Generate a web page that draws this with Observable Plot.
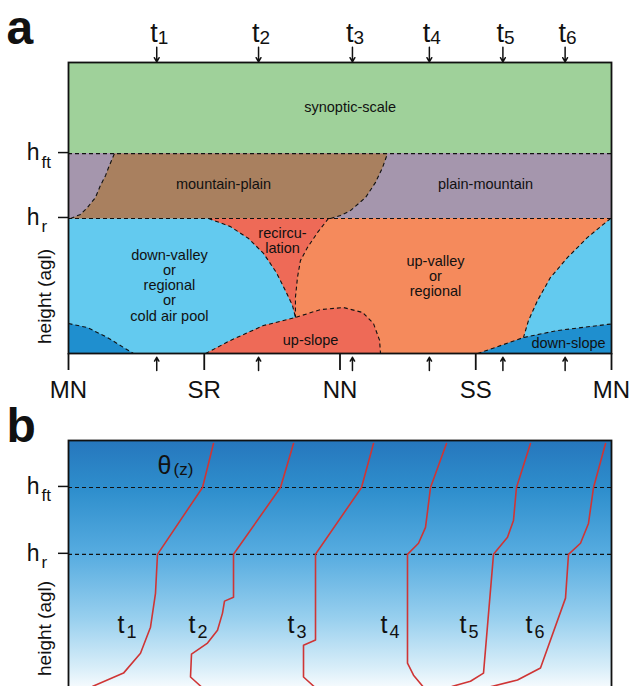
<!DOCTYPE html>
<html><head><meta charset="utf-8">
<script src="https://cdn.jsdelivr.net/npm/d3@7"></script>
<script src="https://cdn.jsdelivr.net/npm/@observablehq/plot@0.6"></script>
<style>
html,body{margin:0;padding:0;overflow:hidden;background:#fff;width:629px;height:686px;}
#chart svg{display:block;}
#chart svg + svg{margin-top:-20px;position:relative;}
</style></head><body><div id="chart"></div>
<script>
// ---------- data (x: hours since midnight, y: relative height %) ----------
const hr = 46.4, hft = 68.7;
const heightLevels = [hr, hft];
const heightSubs = ["r", "ft"];
const dayTicks = [0, 6, 12, 18, 24];
const dayLabels = ["MN", "SR", "NN", "SS", "MN"];
const tTimes = [3.9, 8.4, 12.55, 15.95, 19.2, 21.95];
const tSubs = ["1", "2", "3", "4", "5", "6"];

// boundaries between flow regimes (panel a)
const mpLeft = [[0.09,46.4],[0.53,47.8],[0.84,50.2],[1.19,53.6],[1.41,57.7],[1.64,61.2],[1.77,63.9],[2.03,68.7]];
const mpRight = [[11.58,46.4],[12.02,47.4],[12.46,49.1],[13.13,53.6],[13.57,58.8],[13.88,63.9],[14.10,68.7]];
const blueRecirc = [[6.19,46.4],[7.16,43.6],[7.96,39.5],[8.62,34.4],[9.19,27.8],[9.59,21.6],[9.90,16.5],[10.03,12.4]];
const recircOrange = [[11.49,46.4],[11.01,41.6],[10.56,36.4],[10.25,31.9],[10.12,26.1],[10.03,19.2],[10.03,12.4]];
const upslope = [[6.06,0],[7.16,4.5],[8.62,9.6],[10.03,12.4],[11.14,15.1],[12.15,15.8],[13.0,14.1],[13.48,10.3],[13.75,4.5],[13.79,0]];
const darkLeft = [[0,10.3],[0.84,8.9],[1.72,5.5],[2.43,2.1],[2.87,0]];
const rightBlue = [[23.96,46.4],[22.94,39.9],[22.06,33.0],[21.30,26.1],[20.73,18.2],[20.33,11.3],[20.11,5.5]];
const downslope = [[18.08,0],[19.09,2.7],[20.11,5.5],[21.61,7.9],[23.82,10.0],[24,10.1]];

const regionLabels = [
  {text: "synoptic-scale", x: 12.45, y: 84.5},
  {text: "mountain-plain", x: 6.85, y: 58.1},
  {text: "plain-mountain", x: 18.43, y: 58.1},
  {text: "recircu-\nlation", x: 9.46, y: 38.8},
  {text: "down-valley\nor\nregional\nor\ncold air pool", x: 4.46, y: 23.4},
  {text: "up-valley\nor\nregional", x: 16.22, y: 26.5},
  {text: "up-slope", x: 10.70, y: 4.5},
  {text: "down-slope", x: 22.10, y: 3.4}
];

// potential temperature profiles (panel b; x: theta, arbitrary units)
const prof1 = [[26.70,83.35],[24.68,68.7],[16.39,46.4],[16.02,33.4],[15.10,22.1],[13.26,13.4],[10.13,6.8],[4.60,2.5],[1.84,0]];
const prof2 = [[41.44,83.35],[39.04,68.7],[30.39,46.4],[30.39,32.1],[28.73,30.8],[28.36,26.8],[27.44,21.1],[25.60,16.8],[22.65,13.1],[22.47,5.5],[24.31,2.5],[25.60,0]];
const prof3 = [[56.17,83.35],[53.96,68.7],[45.49,46.4],[45.49,17.8],[43.28,16.1],[43.28,5.5],[45.12,2.5],[46.41,0]];
const prof4 = [[69.61,83.35],[66.67,68.7],[65.75,55.4],[64.46,50.1],[62.43,46.4],[62.43,10.1],[63.54,6.1],[65.19,2.5],[66.11,0]];
const prof5 = [[85.08,83.35],[82.50,68.7],[81.95,57.7],[80.85,52.1],[78.27,46.4],[76.43,6.8],[74.03,4.1],[70.90,2.5],[68.51,1.0],[66.7,0]];
const prof6 = [[98.90,83.35],[96.69,68.7],[95.76,56.7],[94.29,50.1],[92.08,46.4],[91.53,31.8],[86.92,8.5],[82.69,4.5],[78.27,2.5],[74.95,1.0]];
const profLabelX = [9.02, 22.10, 40.33, 57.46, 72.01, 84.16];
const profLabelY = 20.3;

// ---------- styles ----------
const FONT = "Liberation Sans, Arial, Helvetica, sans-serif";
const GREEN = "#9fd19a", BROWN = "#a9805f", PURPLE = "#a596ad", ORANGE = "#f58a5c",
      RED = "#ee6a57", LIGHTBLUE = "#63caef", DARKBLUE = "#1f8fcf", PROFILE = "#cf3535";
const skyStops = [[0, "#2677bd"], [0.2, "#2f8fcd"], [0.45, "#57ace0"], [0.7, "#97cfee"], [0.9, "#d9eef9"], [1, "#ffffff"]];

const X = d => d[0], Y = d => d[1];
const poly = (arr, fill) => Plot.line(arr, {x: X, y: Y, fill, stroke: "none"});
const dash = arr => Plot.line(arr, {x: X, y: Y, stroke: "#111", strokeWidth: 1.1, strokeDasharray: "4,3", strokeLinecap: "butt"});

const brownPoly = [...mpLeft, ...mpRight.slice().reverse()];
const lightBlueLeftPoly = [[0,0],[0,hr], ...blueRecirc, ...upslope.slice(0,4).reverse()];
const recircPoly = [...recircOrange, ...blueRecirc.slice().reverse()];
const darkLeftPoly = [[0,0], ...darkLeft];
const rightBluePoly = [...rightBlue, ...downslope.slice(2), [24,hr]];
const downslopePoly = [...downslope, [24,0]];

const heightAxis = () => [
  Plot.axisY(heightLevels, {tickSize: 10, tickPadding: 19, fontSize: 23, tickFormat: () => "h", label: null, dy: -1, strokeWidth: 1.5, fontFamily: FONT}),
  Plot.text(heightLevels, {x: () => 0, y: d => d, text: (d, i) => heightSubs[i], dx: -27, dy: 14, textAnchor: "start", lineAnchor: "bottom", fontSize: 17, fontFamily: FONT})
];

const plotA = Plot.plot({
  width: 629, height: 405,
  marginTop: 62, marginBottom: 52, marginLeft: 68, marginRight: 18,
  x: {domain: [0, 24]},
  y: {domain: [0, 100]},
  style: {fontFamily: FONT, color: "#111", background: "white"},
  marks: [
    Plot.rect([0], {x1: () => 0, x2: () => 24, y1: () => hft, y2: () => 100, fill: GREEN}),
    Plot.rect([0], {x1: () => 0, x2: () => 24, y1: () => hr, y2: () => hft, fill: PURPLE}),
    Plot.rect([0], {x1: () => 0, x2: () => 24, y1: () => 0, y2: () => hr, fill: ORANGE}),
    poly(brownPoly, BROWN),
    poly(lightBlueLeftPoly, LIGHTBLUE),
    poly(recircPoly, RED),
    poly(upslope, RED),
    poly(darkLeftPoly, DARKBLUE),
    poly(rightBluePoly, LIGHTBLUE),
    poly(downslopePoly, DARKBLUE),
    Plot.ruleY(heightLevels, {stroke: "#111", strokeWidth: 1.1, strokeDasharray: "4,3"}),
    dash(mpLeft), dash(mpRight), dash(blueRecirc), dash(recircOrange),
    dash(upslope), dash(darkLeft), dash(rightBlue), dash(downslope),
    Plot.text(regionLabels, {x: "x", y: "y", text: "text", fontSize: 14.5, lineHeight: 1.05, fill: "#111", fontFamily: FONT}),
    Plot.axisX(dayTicks, {tickSize: 17, tickPadding: 10, fontSize: 24, tickFormat: d => dayLabels[dayTicks.indexOf(d)], label: null, strokeWidth: 1.8, fontFamily: FONT}),
    ...heightAxis(),
    Plot.arrow(tTimes, {x1: d => d, x2: d => d, y1: () => 105.2, y2: () => 100.2, headLength: 9, strokeWidth: 1.5, stroke: "#111"}),
    Plot.arrow(tTimes, {x1: d => d, x2: d => d, y1: () => -5.8, y2: () => -1.3, headLength: 9, strokeWidth: 1.5, stroke: "#111"}),
    Plot.text(tTimes, {x: d => d, y: () => 106.9, text: () => "t", textAnchor: "end", lineAnchor: "bottom", dx: 1, fontSize: 27, fontFamily: FONT}),
    Plot.text(tTimes, {x: d => d, y: () => 106.9, text: (d, i) => tSubs[i], textAnchor: "start", lineAnchor: "bottom", dx: 1, dy: 2, fontSize: 19, fontFamily: FONT}),
    Plot.text(["height (agl)"], {x: () => 0, y: () => 19.6, dx: -24, rotate: -90, fontSize: 19, fontFamily: FONT}),
    Plot.text(["a"], {x: () => 0, y: () => 106.2, dx: -62, textAnchor: "start", lineAnchor: "bottom", fontSize: 48, fontWeight: 900, fontFamily: FONT}),
    Plot.frame({stroke: "#111", strokeWidth: 1.8})
  ]
});

function skyDefs() {
  const defs = d3.create("svg:defs");
  const g = defs.append("linearGradient").attr("id", "skyGrad")
    .attr("x1", 0).attr("y1", 0).attr("x2", 0).attr("y2", 1);
  skyStops.forEach(([o, c]) => g.append("stop").attr("offset", o).attr("stop-color", c));
  return defs.node();
}

const profiles = [prof1, prof2, prof3, prof4, prof5, prof6];

const plotB = Plot.plot({
  width: 629, height: 318,
  marginTop: 55, marginBottom: 10, marginLeft: 68, marginRight: 18,
  x: {domain: [0, 100], axis: null},
  y: {domain: [0, 84.35]},
  style: {fontFamily: FONT, color: "#111", background: "transparent"},
  marks: [
    skyDefs,
    Plot.frame({fill: "url(#skyGrad)", stroke: "none"}),
    Plot.ruleY(heightLevels, {stroke: "#111", strokeWidth: 1.1, strokeDasharray: "4,3"}),
    ...heightAxis(),
    ...profiles.map(p => Plot.line(p, {x: X, y: Y, stroke: PROFILE, strokeWidth: 1.6})),
    Plot.text(profLabelX, {x: d => d, y: () => profLabelY, text: () => "t", textAnchor: "start", lineAnchor: "bottom", fontSize: 25, fontFamily: FONT}),
    Plot.text(profLabelX, {x: d => d, y: () => profLabelY, text: (d, i) => tSubs[i], textAnchor: "start", lineAnchor: "bottom", dx: 9, dy: 5, fontSize: 18, fontFamily: FONT}),
    Plot.text(["θ"], {x: () => 16.4, y: () => 73.3, textAnchor: "start", lineAnchor: "bottom", fontSize: 25, fontFamily: FONT}),
    Plot.text(["(z)"], {x: () => 16.4, y: () => 73.3, dx: 16, dy: 1, textAnchor: "start", lineAnchor: "bottom", fontSize: 17, fontFamily: FONT}),
    Plot.text(["height (agl)"], {x: () => 0, y: () => 21.7, dx: -24, rotate: -90, fontSize: 19, fontFamily: FONT}),
    Plot.text(["b"], {x: () => 0, y: () => 83.7, dx: -62, textAnchor: "start", lineAnchor: "bottom", fontSize: 48, fontWeight: 900, fontFamily: FONT}),
    Plot.frame({stroke: "#111", strokeWidth: 1.8})
  ]
});

document.getElementById("chart").append(plotA, plotB);
</script></body></html>
